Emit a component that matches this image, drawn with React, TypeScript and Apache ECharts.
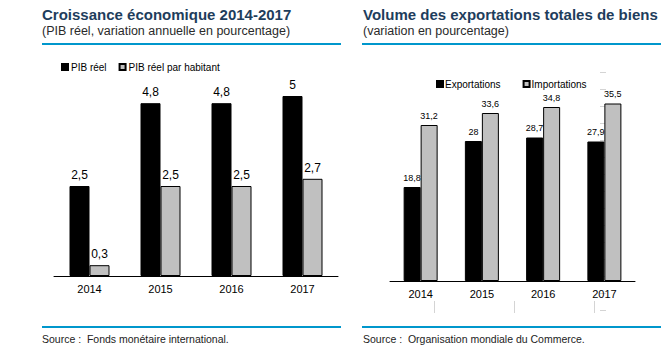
import React, { useEffect, useRef } from "react";
import * as echarts from "echarts";

const categories = ["2014", "2015", "2016", "2017"];
const pibReel = [2.5, 4.8, 4.8, 5];
const pibHabitant = [0.3, 2.5, 2.5, 2.7];
const exportations = [18.8, 28, 28.7, 27.9];
const importations = [31.2, 33.6, 34.8, 35.5];

const leftTitle = "Croissance économique 2014-2017";
const leftSub = "(PIB réel, variation annuelle en pourcentage)";
const rightTitle = "Volume des exportations totales de biens";
const rightSub = "(variation en pourcentage)";
const leftSource = "Source :  Fonds monétaire international.";
const rightSource = "Source :  Organisation mondiale du Commerce.";

const BLUE = "#0097cc";
const TITLE = "#1e3d5c";
const GRAY = "#c0c0c0";
const DECO = "#d4d4d4";

const fmt = (p: any) => String(p.value).replace(".", ",");

export default function App() {
  const ref = useRef<HTMLDivElement>(null);
  useEffect(() => {
    if (!ref.current) return;
    const chart = echarts.init(ref.current, null, { renderer: "svg" });
    const titleFont = "bold 15px 'Liberation Sans', Arial, sans-serif";
    const subFont = "12.5px 'Liberation Sans', Arial, sans-serif";
    const srcFont = "10.5px 'Liberation Sans Narrow', 'Arial Narrow', sans-serif";
    const txt = (x: number, y: number, text: string, font: string, fill: string) => ({
      type: "text",
      x,
      y,
      silent: true,
      style: { text, font, fill, verticalAlign: "middle", align: "left" },
    });
    const hline = (x1: number, x2: number, y: number) => ({
      type: "line",
      silent: true,
      shape: { x1, y1: y, x2, y2: y },
      style: { stroke: BLUE, lineWidth: 2 },
    });
    const catAxis = (gridIndex: number, fontSize: number) => ({
      type: "category",
      gridIndex,
      data: categories,
      axisLine: { lineStyle: { color: "#000", width: 1 } },
      axisTick: { show: false },
      axisLabel: { color: "#000", fontSize, margin: 7, fontFamily: "'Liberation Sans', Arial, sans-serif" },
    });
    chart.setOption({
      animation: false,
      backgroundColor: "#fff",
      graphic: [
        txt(42, 14, leftTitle, titleFont, TITLE),
        txt(42, 31, leftSub, subFont, "#2a2a2a"),
        txt(363, 14, rightTitle, titleFont, TITLE),
        txt(363, 31, rightSub, subFont, "#2a2a2a"),
        hline(42, 341, 44),
        hline(362, 661, 44),
        hline(42, 341, 327),
        hline(362, 661, 327),
        txt(42, 339, leftSource, srcFont, "#222"),
        txt(363, 339, rightSource, srcFont, "#222"),
      ],
      legend: [
        {
          data: ["PIB réel", "PIB réel par habitant"],
          left: 61,
          top: 62,
          padding: 0,
          icon: "rect",
          itemWidth: 6,
          itemHeight: 6,
          itemGap: 12,
          textStyle: { fontSize: 10, color: "#000", padding: [0, 0, 0, -2] },
        },
        {
          data: ["Exportations", "Importations"],
          left: 436,
          top: 79,
          padding: 0,
          icon: "rect",
          itemWidth: 6,
          itemHeight: 6,
          itemGap: 22,
          textStyle: { fontSize: 10, color: "#000", padding: [0, 0, 0, -3] },
        },
      ],
      grid: [
        { left: 54, right: 334, top: 96, bottom: 88 },
        { left: 390, right: 37, top: 81, bottom: 83 },
        { left: 434, width: 160, top: 66, bottom: 54 },
        { left: 600, right: 34, top: 72, bottom: 54 },
      ],
      xAxis: [
        catAxis(0, 11),
        catAxis(1, 11),
        {
          type: "value", gridIndex: 2, position: "top", min: 0, max: 2, interval: 1,
          axisLine: { show: false }, axisLabel: { show: false }, splitLine: { show: false },
          axisTick: { show: true, length: 9, lineStyle: { color: DECO } },
        },
        {
          type: "value", gridIndex: 2, position: "bottom", min: 0, max: 2, interval: 1,
          axisLine: { show: false }, axisLabel: { show: false }, splitLine: { show: false },
          axisTick: { show: true, length: 3, lineStyle: { color: DECO } },
        },
        { type: "value", gridIndex: 3, show: false, min: 0, max: 1 },
      ],
      yAxis: [
        { type: "value", gridIndex: 0, min: 0, max: 5, show: false },
        { type: "value", gridIndex: 1, min: 0, max: 40, show: false },
        { type: "value", gridIndex: 2, min: 0, max: 1, show: false },
        {
          type: "value", gridIndex: 3, position: "right", min: 0, max: 14, interval: 1,
          axisLine: { show: false }, axisLabel: { show: false }, splitLine: { show: false },
          axisTick: { show: true, length: 6, lineStyle: { color: DECO } },
        },
      ],
      series: [
        {
          name: "PIB réel", type: "bar", xAxisIndex: 0, yAxisIndex: 0, data: pibReel,
          barWidth: 20, barGap: "0%",
          itemStyle: { color: "#000", borderColor: "#000", borderWidth: 1 },
          label: { show: true, position: "top", distance: 5, formatter: fmt, fontSize: 12, color: "#000" },
        },
        {
          name: "PIB réel par habitant", type: "bar", xAxisIndex: 0, yAxisIndex: 0, data: pibHabitant,
          barWidth: 20, barGap: "0%",
          itemStyle: { color: GRAY, borderColor: "#000", borderWidth: 1 },
          label: { show: true, position: "top", distance: 5, formatter: fmt, fontSize: 12, color: "#000" },
        },
        {
          name: "Exportations", type: "bar", xAxisIndex: 1, yAxisIndex: 1, data: exportations,
          barWidth: 17, barGap: "0%",
          itemStyle: { color: "#000", borderColor: "#000", borderWidth: 1 },
          label: { show: true, position: "top", distance: 5, formatter: fmt, fontSize: 9, color: "#000", fontFamily: "'Liberation Sans Narrow', 'Arial Narrow', sans-serif" },
        },
        {
          name: "Importations", type: "bar", xAxisIndex: 1, yAxisIndex: 1, data: importations,
          barWidth: 17, barGap: "0%",
          itemStyle: { color: GRAY, borderColor: "#000", borderWidth: 1 },
          label: { show: true, position: "top", distance: 5, formatter: fmt, fontSize: 9, color: "#000", fontFamily: "'Liberation Sans Narrow', 'Arial Narrow', sans-serif" },
        },
      ],
    });
    return () => chart.dispose();
  }, []);
  return <div ref={ref} style={{ width: 672, height: 364, position: "absolute", left: 0, top: 0 }} />;
}
